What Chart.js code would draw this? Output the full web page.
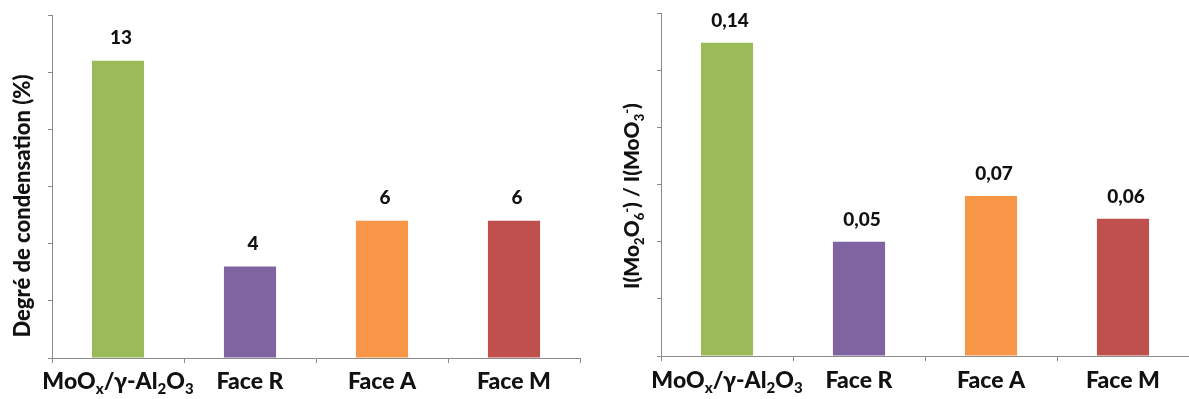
<!DOCTYPE html>
<html><head><meta charset="utf-8">
<script src="https://cdn.jsdelivr.net/npm/chart.js@4.4.1/dist/chart.umd.min.js"></script>
<style>
html,body{margin:0;padding:0;background:#fff;width:1189px;height:399px;overflow:hidden}
#l{position:absolute;left:0;top:0;width:600px;height:399px}
#r{position:absolute;left:600px;top:0;width:589px;height:399px}
</style></head><body>
<div id="l"><canvas id="c1"></canvas></div>
<div id="r"><canvas id="c2"></canvas></div>
<script>
// ---- data ----
const categories = ['MoOx/γ-Al2O3', 'Face R', 'Face A', 'Face M'];
const categoryMarkup = ['MoO_{x}/γ-Al_{2}O_{3}', 'Face R', 'Face A', 'Face M'];
const condensationValues = [13, 4, 6, 6];
const ratioValues = [0.137, 0.05, 0.07, 0.06];
const condensationTitle = 'Degré de condensation (%)';
const ratioTitleMarkup = 'I(Mo_{2}O_{6}^{-}) / I(MoO_{3}^{-})';
const barColors = ['#9BBB59', '#8064A2', '#F79646', '#C0504D'];

const FONT = 'Lato';
const WEIGHT = '900';
const AXIS = '#8a8a8a';

function parseRich(s){
  const out=[]; const re=/([_^])\{([^}]*)\}/g; let last=0,m;
  while((m=re.exec(s))){
    if(m.index>last) out.push({t:s.slice(last,m.index),k:0});
    out.push({t:m[2],k:m[1]==='_'?1:-1}); last=re.lastIndex;
  }
  if(last<s.length) out.push({t:s.slice(last),k:0});
  return out;
}
function drawRich(ctx, s, x, y, size, rot){
  const segs=parseRich(s);
  ctx.save(); ctx.translate(x,y); if(rot) ctx.rotate(rot);
  ctx.textBaseline='alphabetic'; ctx.textAlign='left'; ctx.fillStyle='#111';
  const f=k=>WEIGHT+' '+(k?Math.round(size*0.64):size)+'px '+FONT;
  let w=0; segs.forEach(g=>{ctx.font=f(g.k); g.w=ctx.measureText(g.t).width; w+=g.w;});
  let cx=-w/2;
  segs.forEach(g=>{ctx.font=f(g.k); const dy=g.k===1?size*0.22:(g.k===-1?-size*0.4:0); ctx.fillText(g.t,cx,dy); cx+=g.w;});
  ctx.restore();
}

function makeChart(id, values, max, step, fmt, cfg){
  const decor = {
    id:'decor',
    afterDatasetsDraw(chart){
      const ctx=chart.ctx, meta=chart.getDatasetMeta(0), xs=chart.scales.x;
      ctx.save();
      ctx.fillStyle='#111'; ctx.textAlign='center'; ctx.textBaseline='middle';
      ctx.font=WEIGHT+' '+cfg.valueSize+'px '+FONT;
      meta.data.forEach((bar,i)=>{ ctx.fillText(fmt(values[i]), bar.x+cfg.valueDx, bar.y-cfg.valueGap); });
      ctx.restore();
      categoryMarkup.forEach((lab,i)=>{ drawRich(ctx, lab, xs.getPixelForValue(i), cfg.labelBaseline, cfg.labelSize, 0); });
      drawRich(ctx, cfg.title, cfg.titleX, cfg.titleY, cfg.titleSize, -Math.PI/2);
    }
  };
  return new Chart(document.getElementById(id), {
    type:'bar',
    data:{ labels:categories, datasets:[{ data:values, backgroundColor:barColors, borderWidth:0, categoryPercentage:1, barPercentage:0.395 }]},
    options:{
      responsive:true, maintainAspectRatio:false, animation:false,
      layout:{ padding:cfg.padding },
      plugins:{ legend:{display:false}, tooltip:{enabled:false} },
      scales:{
        x:{ offset:true, grid:{ offset:true, display:true, drawOnChartArea:false, drawTicks:true, tickLength:5, color:AXIS },
            border:{ display:true, color:AXIS, width:1 }, ticks:{ display:false } },
        y:{ min:0, max:max, grid:{ display:true, drawOnChartArea:false, drawTicks:true, tickLength:4, color:AXIS },
            border:{ display:true, color:AXIS, width:1 }, ticks:{ display:false, stepSize:step } }
      }
    },
    plugins:[decor]
  });
}

makeChart('c1', condensationValues, 15, 2.5, v=>String(v), {
  padding:{left:48, top:15, right:20, bottom:36},
  valueSize:19, valueGap:23, valueDx:3, labelBaseline:389, labelSize:23,
  title:condensationTitle, titleX:30, titleY:206, titleSize:22
});
makeChart('c2', ratioValues, 0.15, 0.025, v=>v.toFixed(2).replace('.',','), {
  padding:{left:57, top:13, right:0, bottom:38},
  valueSize:19, valueGap:22, valueDx:3, labelBaseline:388, labelSize:23,
  title:ratioTitleMarkup, titleX:39, titleY:196, titleSize:21
});
</script>
</body></html>
